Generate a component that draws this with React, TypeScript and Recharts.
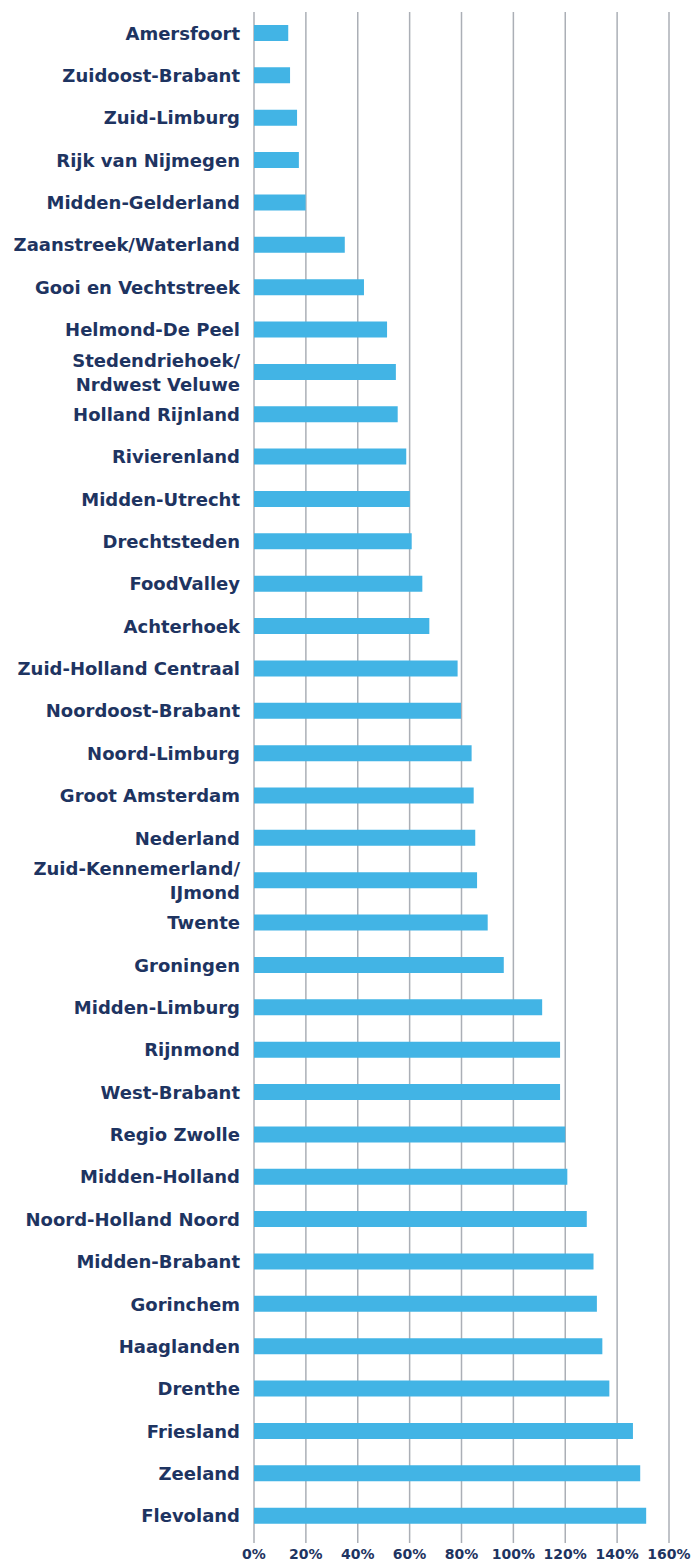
import React from 'react';
import { BarChart, Bar, XAxis, YAxis, CartesianGrid } from 'recharts';

const regions: string[] = [
  'Amersfoort',
  'Zuidoost-Brabant',
  'Zuid-Limburg',
  'Rijk van Nijmegen',
  'Midden-Gelderland',
  'Zaanstreek/Waterland',
  'Gooi en Vechtstreek',
  'Helmond-De Peel',
  'Stedendriehoek/\nNrdwest Veluwe',
  'Holland Rijnland',
  'Rivierenland',
  'Midden-Utrecht',
  'Drechtsteden',
  'FoodValley',
  'Achterhoek',
  'Zuid-Holland Centraal',
  'Noordoost-Brabant',
  'Noord-Limburg',
  'Groot Amsterdam',
  'Nederland',
  'Zuid-Kennemerland/\nIJmond',
  'Twente',
  'Groningen',
  'Midden-Limburg',
  'Rijnmond',
  'West-Brabant',
  'Regio Zwolle',
  'Midden-Holland',
  'Noord-Holland Noord',
  'Midden-Brabant',
  'Gorinchem',
  'Haaglanden',
  'Drenthe',
  'Friesland',
  'Zeeland',
  'Flevoland',
];

const values: number[] = [
  13.2, 13.9, 16.6, 17.3, 19.9, 35.0, 42.4, 51.3, 54.7, 55.4, 58.7, 60.1,
  60.8, 64.9, 67.6, 78.5, 79.8, 83.9, 84.7, 85.3, 86.0, 90.1, 96.3, 111.1,
  118.0, 118.0, 120.0, 120.8, 128.3, 130.9, 132.2, 134.3, 137.0, 146.1, 148.9, 151.2,
];

const xTicks: number[] = [0, 20, 40, 60, 80, 100, 120, 140, 160];

const data = regions.map((name, i) => ({ name, value: values[i] }));

const NAVY = '#1e3461';
const BLUE = '#42b4e5';
const GRID = '#abafb6';
const FONT = '"DejaVu Sans", "Open Sans", sans-serif';

const YTick = (props: any) => {
  const { x, y, payload } = props;
  const lines = String(payload.value).split('\n');
  const lh = 24;
  const start = -((lines.length - 1) * lh) / 2;
  return (
    <text
      textAnchor="end"
      fill={NAVY}
      fontFamily={FONT}
      fontSize={18}
      fontWeight="bold"
    >
      {lines.map((l, i) => (
        <tspan key={i} x={x} y={y + start + i * lh + 6.5}>
          {l}
        </tspan>
      ))}
    </text>
  );
};

export default function App() {
  return (
    <div style={{ position: 'absolute', left: 0, top: 0, background: '#fff' }}>
      <BarChart
        width={691}
        height={1566}
        data={data}
        layout="vertical"
        margin={{ top: 12, right: 22, bottom: 0, left: 0 }}
        barCategoryGap={0}
      >
        <CartesianGrid
          horizontal={false}
          vertical={true}
          stroke={GRID}
          strokeWidth={1.5}
        />
        <XAxis
          type="number"
          domain={[0, 160]}
          ticks={xTicks}
          interval={0}
          height={29}
          axisLine={false}
          tickLine={{ stroke: GRID, strokeWidth: 1.5 }}
          tickSize={6}
          tickMargin={6}
          tickFormatter={(v: number) => `${v}%`}
          tick={{ fill: NAVY, fontFamily: FONT, fontSize: 14, fontWeight: 'bold' }}
        />
        <YAxis
          type="category"
          dataKey="name"
          width={254}
          interval={0}
          axisLine={false}
          tickLine={false}
          tickSize={0}
          tickMargin={14}
          tick={<YTick />}
        />
        <Bar dataKey="value" fill={BLUE} barSize={16} isAnimationActive={false} />
      </BarChart>
    </div>
  );
}
